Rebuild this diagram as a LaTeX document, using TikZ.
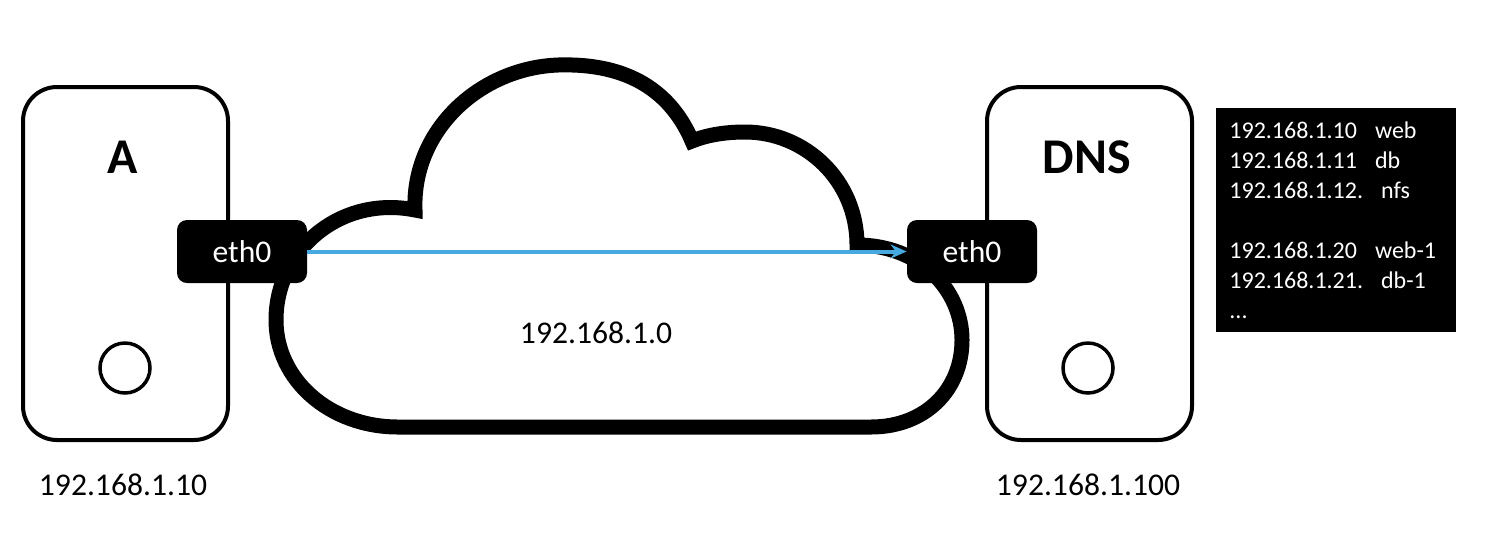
\documentclass[tikz,border=0pt]{standalone}
\usepackage{fontspec}
\setmainfont{Carlito}
\usetikzlibrary{arrows.meta, positioning}

\definecolor{linkblue}{RGB}{70,170,225}

\tikzset{
	host/.style={draw, line width=2pt, rounded corners=17pt, minimum width=102.5pt, minimum height=176.5pt},
	nic/.style={fill=black, text=white, rounded corners=5pt, minimum width=65pt, minimum height=31.5pt, inner sep=0pt, font=\fontsize{15.8}{19}\selectfont},
	led/.style={draw, circle, line width=1.75pt, minimum size=25pt, inner sep=0pt},
	iplabel/.style={inner sep=0pt, font=\fontsize{15.8}{19}\selectfont},
	hostname/.style={inner sep=0pt, font=\bfseries\fontsize{25}{30}\selectfont},
	hostsbox/.style={fill=black, text=white, align=left, text width=107pt, inner xsep=6.5pt, inner ysep=0pt, minimum height=112pt, font=\fontsize{12}{15}\selectfont},
}
\newcommand{\gap}{\hspace{9pt}}

\begin{document}
\begin{tikzpicture}[x=0.5pt, y=-0.5pt]
		
		\useasboundingbox (0,0) rectangle (1486,542);
		
		% Hosts
		\node[host] (hostA) at (125.5,263.5) {};
		\node[host] (hostD) at (1089.5,263.5) {};
		\node[hostname] (nameA) at (123,157) {A};
		\node[hostname] (nameD) at (1087,157) {DNS};
		\node[led] (ledA) at (125,368) {};
		\node[led] (ledD) at (1088,368) {};
		
		% Addresses
		\node[iplabel] (ipA) at (123,485) {192.168.1.10};
		\node[iplabel] (ipD) at (1088,485) {192.168.1.100};
		
		% Network cloud
		\draw[line width=7.5pt, fill=white]
			(398,427) -- (871,427)
			.. controls (925,427) and (962,390) .. (962,340)
			.. controls (962,290) and (920,245) .. (857,245)
			.. controls (857,180) and (805,132) .. (745,132)
			.. controls (725,132) and (707,135) .. (692,141)
			.. controls (668,85) and (620,63) .. (558,65)
			.. controls (480,68) and (412,130) .. (415,210)
			.. controls (340,195) and (276,250) .. (276,320)
			.. controls (276,380) and (330,427) .. (398,427) -- cycle;
		\node[iplabel] (net) at (596,333) {192.168.1.0};
		
		% Interfaces
		\node[nic] (ethA) at (242,251.5) {eth0};
		\node[nic] (ethD) at (972,251.5) {eth0};
		
		% Hosts file
		\node[hostsbox, anchor=north west] (hosts) at (1216,108) {%
			192.168.1.10\gap web\\
			192.168.1.11\gap db\\
			192.168.1.12.\gap nfs\\[15pt]
			192.168.1.20\gap web-1\\
			192.168.1.21.\gap db-1\\
			...};
		
		% Query
		\draw[-{Stealth[length=8pt, width=7pt]}, linkblue, line width=2pt] (ethA.east) -- (ethD.west);
		
	\end{tikzpicture}
\end{document}
